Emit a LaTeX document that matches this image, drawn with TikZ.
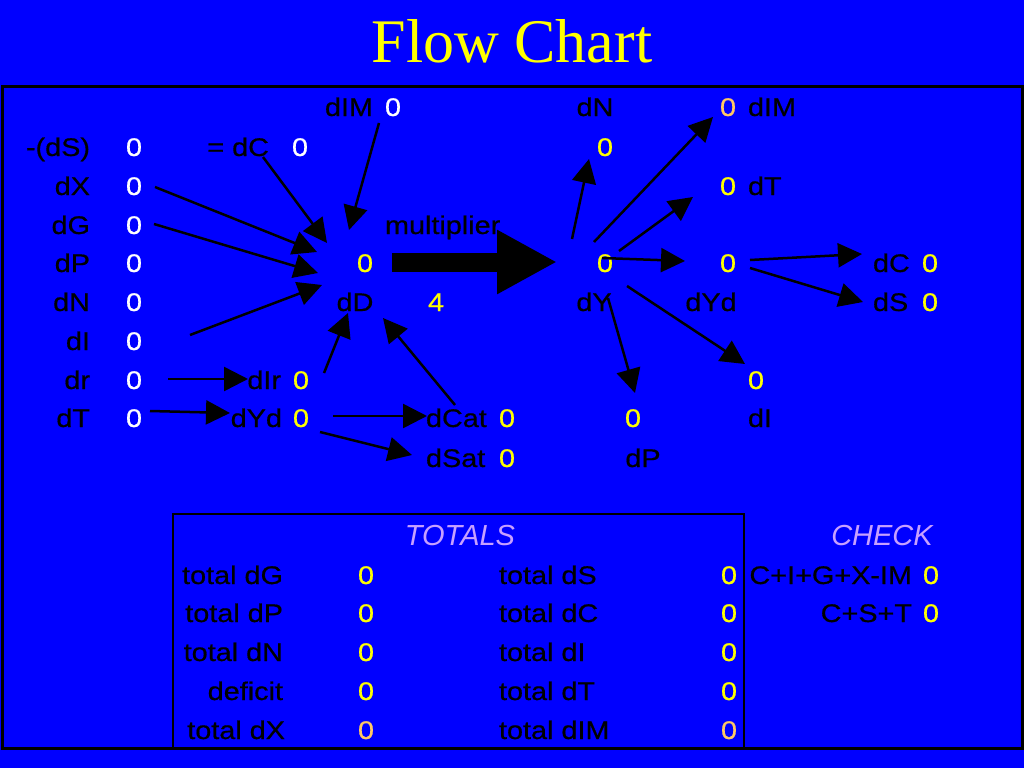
\documentclass[tikz,border=0pt]{standalone}
\usepackage{fontspec}
\setmainfont{Liberation Sans}
\newfontfamily\bodyf[FakeStretch=1.13,FakeBold=0.6]{Liberation Sans}
\newfontfamily\titlef{Liberation Serif}
\usetikzlibrary{arrows.meta}
\definecolor{bg}{RGB}{0,0,255}
\definecolor{yel}{RGB}{255,255,0}
\definecolor{org}{RGB}{255,200,100}
\definecolor{lav}{RGB}{200,160,255}
\tikzset{
  txt/.style={inner sep=0pt, outer sep=0pt, font=\bodyf\fontsize{25.5}{25.5}\selectfont},
  lb/.style={txt, text=black},
  wv/.style={txt, text=white, anchor=base},
  yv/.style={txt, text=yel, anchor=base},
  ov/.style={txt, text=org, anchor=base},
  hd/.style={inner sep=0pt, font=\fontsize{29}{29}\selectfont\itshape, text=lav, anchor=base},
  con/.style={draw=black, line width=2.5pt, -{Triangle[length=24pt,width=24pt]}},
  bigarrow/.style={draw=black, line width=19pt, -{Triangle[length=60pt,width=60pt]}},
  frame/.style={draw=black, line width=3pt},
}
\begin{document}
\begin{tikzpicture}[x=1pt,y=-1pt]
\fill[bg] (0,0) rectangle (1024,768);
\useasboundingbox (0,0) rectangle (1024,768);

% title
\node[inner sep=0pt, anchor=base, text=yel, font=\titlef\fontsize{62}{62}\selectfont] (title) at (512,63) {Flow Chart};

% frames
\draw[frame] (2,86) rectangle (1022,748);
\draw[draw=black, line width=2.5pt] (173,514) rectangle (744,748);

% left column
\node[lb, anchor=base east] (lS) at (90,156) {-(dS)};
\node[wv] (vS) at (134,156) {0};
\node[lb, anchor=base east] (lX) at (90,195) {dX};
\node[wv] (vX) at (134,195) {0};
\node[lb, anchor=base east] (lG) at (90,234) {dG};
\node[wv] (vG) at (134,234) {0};
\node[lb, anchor=base east] (lP) at (90,272) {dP};
\node[wv] (vP) at (134,272) {0};
\node[lb, anchor=base east] (lN) at (90,311) {dN};
\node[wv] (vN) at (134,311) {0};
\node[lb, anchor=base east] (lI) at (90,350) {dI};
\node[wv] (vI) at (134,350) {0};
\node[lb, anchor=base east] (lr) at (90,389) {dr};
\node[wv] (vr) at (134,389) {0};
\node[lb, anchor=base east] (lT) at (90,427) {dT};
\node[wv] (vT) at (134,427) {0};

% middle left
\node[lb, anchor=base east] (lC) at (269,156) {= dC};
\node[wv] (vC) at (300,156) {0};
\node[lb, anchor=base east] (lIM) at (373,116) {dIM};
\node[wv] (vIM) at (393,116) {0};
\node[yv] (vD) at (365,272) {0};
\node[lb, anchor=base] (lD) at (355,311) {dD};
\node[yv] (vM) at (436,311) {4};
\node[lb, anchor=base west] (lM) at (385,234) {multiplier};
\node[lb, anchor=base east] (lIr) at (281,389) {dIr};
\node[yv] (vIr) at (301,389) {0};
\node[lb, anchor=base east] (lYd) at (282,427) {dYd};
\node[yv] (vYd) at (301,427) {0};
\node[lb, anchor=base west] (lCat) at (426,427) {dCat};
\node[yv] (vCat) at (507,427) {0};
\node[lb, anchor=base west] (lSat) at (426,467) {dSat};
\node[yv] (vSat) at (507,467) {0};

% right part
\node[lb, anchor=base] (rNl) at (595,116) {dN};
\node[yv] (rNv) at (605,156) {0};
\node[ov] (rIMv) at (728,116) {0};
\node[lb, anchor=base west] (rIMl) at (748,116) {dIM};
\node[yv] (rTv) at (728,195) {0};
\node[lb, anchor=base west] (rTl) at (748,195) {dT};
\node[yv] (rYv) at (605,272) {0};
\node[lb, anchor=base] (rYl) at (594,311) {dY};
\node[yv] (rYdv) at (728,272) {0};
\node[lb, anchor=base] (rYdl) at (711,311) {dYd};
\node[lb, anchor=base west] (rCl) at (873,272) {dC};
\node[yv] (rCv) at (930,272) {0};
\node[lb, anchor=base west] (rSl) at (873,311) {dS};
\node[yv] (rSv) at (930,311) {0};
\node[yv] (rIv) at (756,389) {0};
\node[lb, anchor=base west] (rIl) at (748,427) {dI};
\node[yv] (rPv) at (633,427) {0};
\node[lb, anchor=base] (rPl) at (643,467) {dP};

% totals
\node[hd] (hTot) at (460,545) {TOTALS};
\node[hd] (hChk) at (882,545) {CHECK};
\node[lb, anchor=base east] (t1) at (283,584) {total dG};
\node[yv] (t1v) at (366,584) {0};
\node[lb, anchor=base east] (t2) at (283,622) {total dP};
\node[yv] (t2v) at (366,622) {0};
\node[lb, anchor=base east] (t3) at (283,661) {total dN};
\node[yv] (t3v) at (366,661) {0};
\node[lb, anchor=base east] (t4) at (283,700) {deficit};
\node[yv] (t4v) at (366,700) {0};
\node[lb, anchor=base east] (t5) at (285,739) {total dX};
\node[ov] (t5v) at (366,739) {0};
\node[lb, anchor=base west] (u1) at (499,584) {total dS};
\node[yv] (u1v) at (729,584) {0};
\node[lb, anchor=base west] (u2) at (499,622) {total dC};
\node[yv] (u2v) at (729,622) {0};
\node[lb, anchor=base west] (u3) at (499,661) {total dI};
\node[yv] (u3v) at (729,661) {0};
\node[lb, anchor=base west] (u4) at (499,700) {total dT};
\node[yv] (u4v) at (729,700) {0};
\node[lb, anchor=base west] (u5) at (499,739) {total dIM};
\node[ov] (u5v) at (729,739) {0};
\node[lb, anchor=base east] (c1) at (912,584) {C+I+G+X-IM};
\node[yv] (c1v) at (931,584) {0};
\node[lb, anchor=base east] (c2) at (912,622) {C+S+T};
\node[yv] (c2v) at (931,622) {0};

% connector end points
\coordinate (s1) at (263,157);  \coordinate (e1) at (327,243);
\coordinate (s2) at (379,123);  \coordinate (e2) at (349,230);
\coordinate (s3) at (155,187);  \coordinate (e3) at (317,252);
\coordinate (s4) at (154,224);  \coordinate (e4) at (318,273);
\coordinate (s5) at (190,335);  \coordinate (e5) at (322,285);
\coordinate (s6) at (324,373);  \coordinate (e6) at (348,313);
\coordinate (s7) at (455,405);  \coordinate (e7) at (383,318);
\coordinate (s8) at (168,379);  \coordinate (e8) at (248,379);
\coordinate (s9) at (150,411);  \coordinate (e9) at (230,413);
\coordinate (s10) at (333,416); \coordinate (e10) at (427,416);
\coordinate (s11) at (320,432); \coordinate (e11) at (412,455);
\coordinate (p1) at (572,239);  \coordinate (q1) at (589,159);
\coordinate (p2) at (594,242);  \coordinate (q2) at (713,117);
\coordinate (p3) at (619,251);  \coordinate (q3) at (693,197);
\coordinate (p4) at (602,258);  \coordinate (q4) at (685,261);
\coordinate (p5) at (627,286);  \coordinate (q5) at (745,364);
\coordinate (p6) at (608,298);  \coordinate (q6) at (635,393);
\coordinate (p7) at (750,260);  \coordinate (q7) at (862,254);
\coordinate (p8) at (750,268);  \coordinate (q8) at (863,302);
\coordinate (bs) at (392,262);  \coordinate (be) at (557,262);

\foreach \i in {1,...,11} \draw[con] (s\i) -- (e\i);
\foreach \i in {1,...,8} \draw[con] (p\i) -- (q\i);
\draw[bigarrow] (bs) -- (be);
\end{tikzpicture}
\end{document}
